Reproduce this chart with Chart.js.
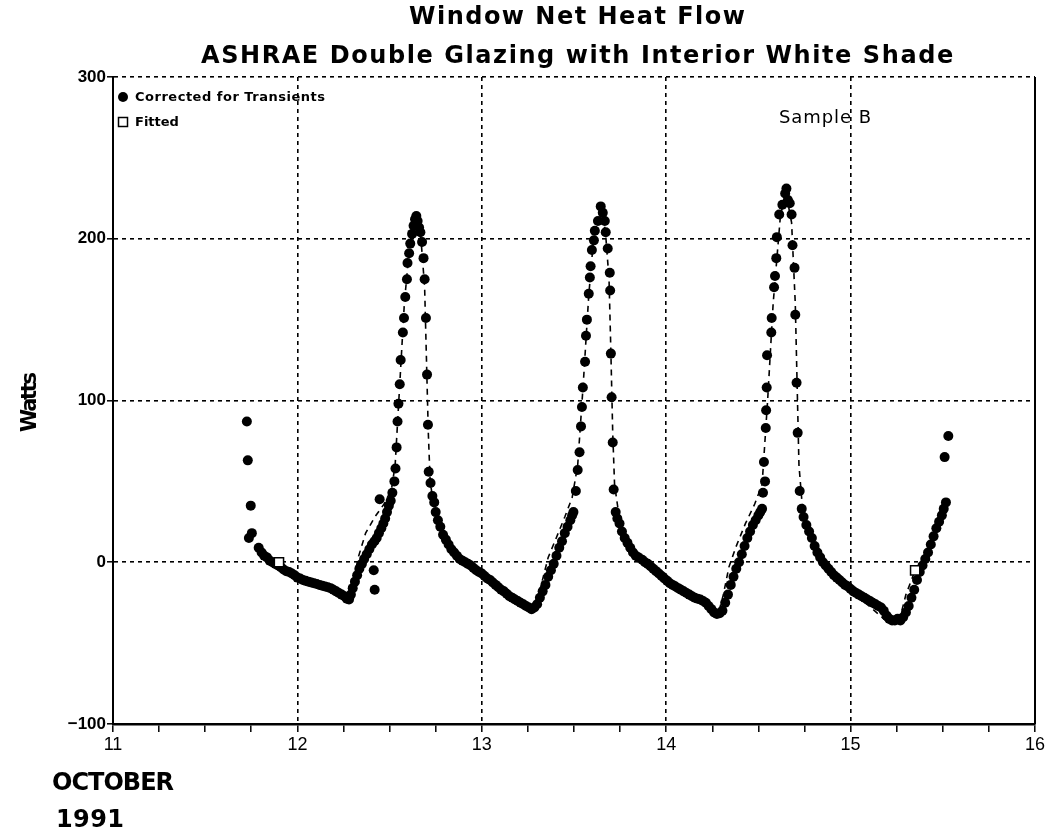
<!DOCTYPE html>
<html lang="en">
<head>
    <meta charset="UTF-8">
    <title>Window Net Heat Flow</title>
    <script src="https://cdn.jsdelivr.net/npm/chart.js"></script>
    <style>
        html, body { margin: 0; padding: 0; background: #fff; }
        #wrap { width: 1051px; height: 835px; }
    </style>
</head>
<body>
<div id="wrap"><canvas id="heatChart" width="1051" height="835"></canvas></div>
<script>
    // Corrected for transients: time (day of October 1991) and net heat flow (W)
    const corrDays = [
        11.726, 11.731, 11.747, 11.753, 11.737, 11.790, 11.806, 11.820, 11.835, 11.850,
        11.865, 11.880, 11.895, 11.910, 11.925, 11.940, 11.955, 11.970, 11.985, 12.000,
        12.015, 12.030, 12.045, 12.060, 12.075, 12.090, 12.105, 12.120, 12.135, 12.150,
        12.165, 12.180, 12.195, 12.210, 12.225, 12.240, 12.255, 12.268, 12.280, 12.290,
        12.300, 12.312, 12.324, 12.336, 12.350, 12.362, 12.376, 12.390, 12.404, 12.414,
        12.419, 12.418, 12.430, 12.442, 12.446, 12.455, 12.466, 12.476, 12.486, 12.496,
        12.506, 12.515, 12.526, 12.532, 12.538, 12.543, 12.548, 12.555, 12.560, 12.572,
        12.578, 12.585, 12.594, 12.597, 12.606, 12.612, 12.622, 12.630, 12.638, 12.645,
        12.652, 12.660, 12.667, 12.676, 12.684, 12.690, 12.697, 12.703, 12.708, 12.712,
        12.722, 12.732, 12.742, 12.750, 12.762, 12.775, 12.790, 12.805, 12.820, 12.835,
        12.850, 12.865, 12.880, 12.895, 12.910, 12.925, 12.940, 12.955, 12.970, 12.985,
        13.000, 13.015, 13.030, 13.045, 13.060, 13.075, 13.090, 13.105, 13.120, 13.135,
        13.150, 13.165, 13.180, 13.195, 13.210, 13.225, 13.240, 13.255, 13.270, 13.285,
        13.300, 13.315, 13.330, 13.345, 13.360, 13.375, 13.390, 13.405, 13.420, 13.435,
        13.450, 13.465, 13.480, 13.490, 13.497, 13.510, 13.520, 13.530, 13.538, 13.543,
        13.548, 13.560, 13.565, 13.570, 13.580, 13.586, 13.590, 13.597, 13.608, 13.613,
        13.630, 13.645, 13.656, 13.667, 13.672, 13.683, 13.694, 13.696, 13.700, 13.704,
        13.710, 13.715, 13.726, 13.735, 13.747, 13.760, 13.775, 13.790, 13.805, 13.820,
        13.835, 13.850, 13.870, 13.885, 13.900, 13.915, 13.930, 13.945, 13.960, 13.975,
        13.990, 14.005, 14.020, 14.035, 14.050, 14.065, 14.080, 14.095, 14.110, 14.125,
        14.140, 14.155, 14.170, 14.185, 14.200, 14.215, 14.230, 14.245, 14.260, 14.275,
        14.290, 14.305, 14.320, 14.335, 14.350, 14.365, 14.380, 14.395, 14.410, 14.425,
        14.440, 14.455, 14.470, 14.485, 14.500, 14.510, 14.520, 14.525, 14.536, 14.530,
        14.540, 14.542, 14.545, 14.547, 14.570, 14.572, 14.585, 14.590, 14.597, 14.600,
        14.613, 14.630, 14.645, 14.652, 14.660, 14.670, 14.680, 14.685, 14.696, 14.700,
        14.707, 14.713, 14.724, 14.735, 14.745, 14.760, 14.775, 14.790, 14.805, 14.820,
        14.835, 14.850, 14.865, 14.880, 14.895, 14.910, 14.925, 14.940, 14.955, 14.970,
        14.985, 15.000, 15.015, 15.030, 15.045, 15.060, 15.075, 15.090, 15.105, 15.120,
        15.135, 15.150, 15.165, 15.180, 15.195, 15.210, 15.225, 15.240, 15.255, 15.270,
        15.285, 15.300, 15.315, 15.330, 15.345, 15.360, 15.375, 15.390, 15.405, 15.420,
        15.435, 15.450, 15.465, 15.480, 15.495, 15.505, 15.517, 15.510, 15.530
    ];
    const corrWatts = [
        87, 63, 35, 18, 15, 9, 6, 4, 3, 1,
        0, -1, -2, -3, -4.5, -5.5, -6, -7, -8, -9.5,
        -10, -11, -11.5, -12, -12.5, -13, -13.5, -14, -14.5, -15,
        -15.5, -16, -17, -18, -19, -20, -21, -22.5, -23, -20,
        -16, -12, -8, -4, -1, 2, 5, 8, 11, -5,
        -17, 13, 15, 18, 39, 21, 24, 27, 31, 35,
        38, 43, 50, 58, 71, 87, 98, 110, 125, 142,
        151, 164, 175, 185, 191, 197, 203, 208, 212, 214,
        211, 207, 204, 198, 188, 175, 151, 116, 85, 56,
        49, 41, 37, 31, 26, 22, 17, 14, 11, 8,
        6, 4, 2, 1, 0, -1, -2, -3.5, -5, -6,
        -7, -8.5, -10, -11, -12.5, -14, -15.5, -17, -18, -19.5,
        -21, -22, -23, -24, -25, -26, -27, -28, -29, -28,
        -26, -22, -18, -14, -9, -5, -1, 4, 9, 13,
        18, 22, 26, 29, 31, 44, 57, 68, 84, 96,
        108, 124, 140, 150, 166, 176, 183, 193, 199, 205,
        211, 220, 216, 211, 204, 194, 179, 168, 129, 102,
        74, 45, 31, 27, 24, 19, 15, 12, 9, 6,
        4, 3, 1.5, 0, -1, -2.5, -4, -5.5, -7, -8.5,
        -10, -11.5, -13, -14, -15, -16, -17, -18, -19, -20,
        -21, -22, -22.5, -23, -24, -25, -27, -29, -31, -32,
        -31.5, -30, -25, -20, -14, -9, -4, 0, 5, 10,
        15, 19, 23, 26, 29, 31, 33, 43, 50, 62,
        83, 94, 108, 128, 142, 151, 170, 177, 188, 201,
        215, 221, 228, 231, 224, 222, 215, 196, 182, 153,
        111, 80, 44, 33, 28, 23, 19, 15, 10, 6,
        3, 0, -2, -4, -6, -8, -9.5, -11, -12.5, -14,
        -15, -16.5, -18, -19, -20, -21, -22, -23, -24, -25,
        -26, -27, -28, -30, -33, -35, -36, -36, -35, -36,
        -34, -31, -27, -22, -17, -11, -6, -2, 2, 6,
        11, 16, 21, 25, 29, 33, 37, 65, 78
    ];

    // Fitted curve (dashed line); its first and last points are drawn as open squares
    const fitDays = [
        11.90, 12.00, 12.10, 12.20, 12.27, 12.30, 12.33, 12.37, 12.42, 12.47,
        12.51, 12.53, 12.55, 12.58, 12.61, 12.64, 12.67, 12.69, 12.70, 12.71,
        12.72, 12.75, 12.80, 12.90, 13.00, 13.10, 13.20, 13.28, 13.32, 13.36,
        13.40, 13.45, 13.49, 13.52, 13.55, 13.58, 13.61, 13.645, 13.67, 13.69,
        13.70, 13.71, 13.72, 13.75, 13.80, 13.90, 14.00, 14.10, 14.20, 14.28,
        14.31, 14.34, 14.38, 14.43, 14.48, 14.52, 14.55, 14.58, 14.62, 14.65,
        14.68, 14.70, 14.71, 14.72, 14.74, 14.80, 14.90, 15.00, 15.10, 15.20,
        15.26, 15.30, 15.35
    ];
    const fitWatts = [
        0, -9, -13, -17, -22, -14, 3, 18, 28, 36,
        45, 60, 100, 160, 198, 212, 200, 170, 125, 80,
        50, 27, 13, 0, -8, -16, -24, -29, -15, 3,
        14, 28, 40, 60, 110, 165, 205, 218, 205, 175,
        130, 80, 48, 24, 10, 0, -10, -18, -26, -33,
        -20, -3, 10, 24, 36, 48, 100, 160, 215, 228,
        210, 160, 110, 60, 32, 10, -8, -18, -27, -37,
        -38, -20, -5
    ];

    const titleLines = ['Window Net Heat Flow', 'ASHRAE Double Glazing with Interior White Shade'];
    const legendLabels = ['Corrected for Transients', 'Fitted'];

    function toPoints(xs, ys) {
        return xs.map((x, i) => ({ x: x, y: ys[i] }));
    }

    // draw text stretched to a given width using letter spacing
    function fitText(ctx, text, x, y, width, align) {
        ctx.letterSpacing = '0px';
        const base = ctx.measureText(text).width;
        const sp = (width - base) / Math.max(text.length - 1, 1);
        ctx.letterSpacing = sp.toFixed(2) + 'px';
        ctx.textAlign = 'left';
        let startX = x;
        if (align === 'center') startX = x - width / 2;
        if (align === 'right') startX = x - width;
        ctx.fillText(text, startX, y);
        ctx.letterSpacing = '0px';
    }

    // titles, axis titles, legend and the right frame line
    const decorPlugin = {
        id: 'decor',
        afterDraw(chart) {
            const ctx = chart.ctx;
            const area = chart.chartArea;
            ctx.save();
            ctx.fillStyle = '#000';
            ctx.strokeStyle = '#000';
            ctx.textBaseline = 'middle';

            // right frame
            ctx.lineWidth = 2;
            ctx.beginPath();
            ctx.moveTo(area.right, area.top);
            ctx.lineTo(area.right, area.bottom);
            ctx.stroke();

            const mid = (area.left + area.right) / 2 + 3;
            ctx.font = 'bold 24px "DejaVu Sans"';
            fitText(ctx, titleLines[0], mid, 18, 336, 'center');
            fitText(ctx, titleLines[1], mid, 57, 752, 'center');

            // y axis title
            ctx.save();
            ctx.translate(31, 402);
            ctx.rotate(-Math.PI / 2);
            ctx.font = 'bold 21px "DejaVu Sans"';
            fitText(ctx, 'Watts', 0, 0, 60, 'center');
            ctx.restore();

            // date label
            ctx.font = 'bold 24px "DejaVu Sans"';
            fitText(ctx, 'OCTOBER', 52, 784, 122, 'left');
            fitText(ctx, '1991', 56, 821, 68, 'left');

            ctx.font = '18px "DejaVu Sans"';
            fitText(ctx, 'Sample B', 779, 118, 92, 'left');

            // legend
            ctx.font = 'bold 13px "DejaVu Sans"';
            ctx.beginPath();
            ctx.arc(123, 97, 5, 0, Math.PI * 2);
            ctx.fill();
            fitText(ctx, legendLabels[0], 135, 98, 190, 'left');
            ctx.lineWidth = 1.5;
            ctx.strokeRect(118.5, 117.5, 9, 9);
            ctx.textAlign = 'left';
            ctx.fillText(legendLabels[1], 135, 123);
            ctx.restore();
        }
    };

    const ctx = document.getElementById('heatChart').getContext('2d');
    new Chart(ctx, {
        type: 'scatter',
        data: {
            datasets: [
                {
                    label: legendLabels[1],
                    type: 'line',
                    data: toPoints(fitDays, fitWatts),
                    borderColor: '#000',
                    borderWidth: 1.6,
                    borderDash: [6, 5],
                    pointRadius: 0,
                    tension: 0,
                    fill: false,
                    order: 3
                },
                {
                    label: legendLabels[0],
                    data: toPoints(corrDays, corrWatts),
                    backgroundColor: '#000',
                    borderWidth: 0,
                    pointRadius: 5,
                    order: 2
                },
                {
                    label: 'Fitted ends',
                    data: toPoints([fitDays[0], fitDays[fitDays.length - 1]],
                                   [fitWatts[0], fitWatts[fitWatts.length - 1]]),
                    pointStyle: 'rect',
                    pointRadius: 6.5,
                    backgroundColor: '#fff',
                    borderColor: '#000',
                    borderWidth: 1.5,
                    order: 1
                }
            ]
        },
        options: {
            responsive: false,
            animation: false,
            devicePixelRatio: 1,
            layout: { padding: { top: 77, right: 16, left: 0, bottom: 0 } },
            plugins: {
                legend: { display: false },
                title: { display: false },
                tooltip: { enabled: false }
            },
            scales: {
                x: {
                    type: 'linear',
                    min: 11,
                    max: 16,
                    afterFit: (s) => { s.height = 111; },
                    ticks: {
                        stepSize: 0.25,
                        autoSkip: false,
                        maxRotation: 0,
                        padding: 2,
                        color: '#000',
                        font: { family: 'Liberation Sans', size: 18 },
                        callback: (v) => Number.isInteger(v) ? String(v) : ''
                    },
                    grid: {
                        color: (c) => (c.tick && Number.isInteger(c.tick.value) && c.tick.value > 11 && c.tick.value < 16) ? '#000' : 'rgba(0,0,0,0)',
                        lineWidth: 1.6,
                        tickLength: 8,
                        tickColor: '#000',
                        tickWidth: 1.5
                    },
                    border: { color: '#000', width: 2.5, dash: [4, 4] }
                },
                y: {
                    min: -100,
                    max: 300,
                    afterFit: (s) => { s.width = 113; },
                    ticks: {
                        stepSize: 100,
                        padding: 1,
                        color: '#000',
                        font: { family: 'Liberation Sans', size: 17, weight: 'bold' },
                        callback: (v) => v < 0 ? '\u2212' + Math.abs(v) : String(v)
                    },
                    grid: {
                        color: (c) => (c.tick && c.tick.value > -100) ? '#000' : 'rgba(0,0,0,0)',
                        lineWidth: 1.6,
                        tickLength: 6,
                        tickColor: '#000',
                        tickWidth: 1.5
                    },
                    border: { color: '#000', width: 2, dash: [4, 4] }
                }
            }
        },
        plugins: [decorPlugin]
    });
</script>
</body>
</html>
